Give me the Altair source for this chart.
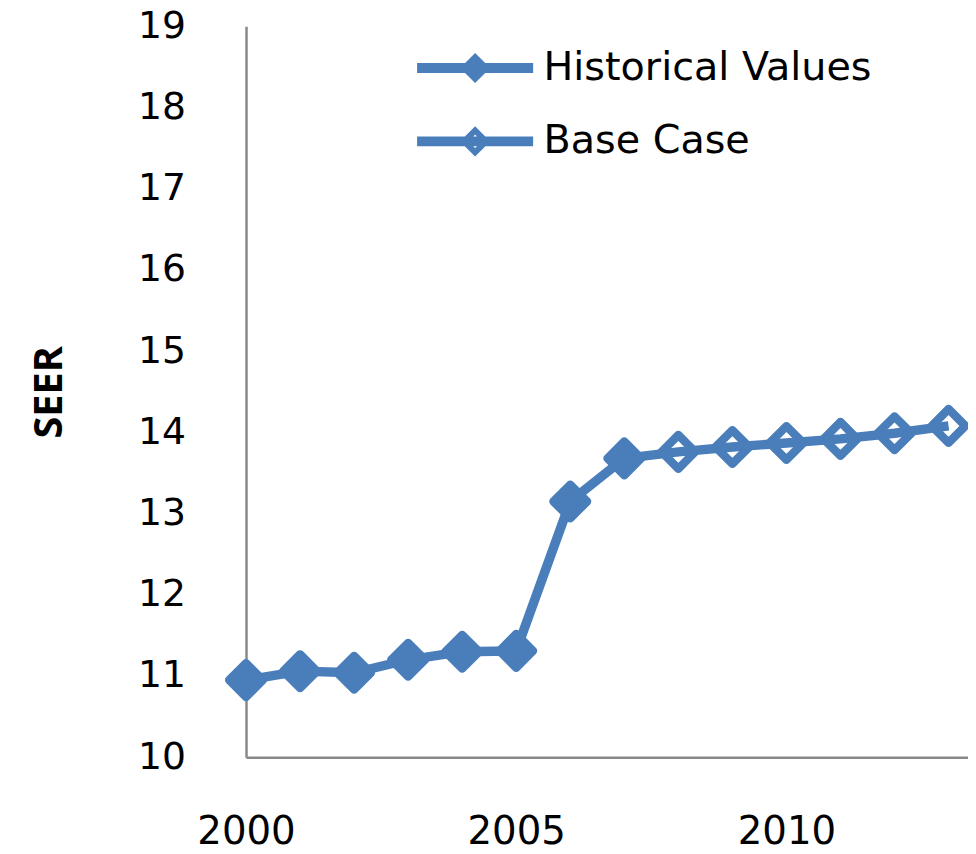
import altair as alt
import pandas as pd

# ---- data ----
hist_years = [2000, 2001, 2002, 2003, 2004, 2005, 2006, 2007]
hist_seer = [10.95, 11.06, 11.04, 11.20, 11.30, 11.31, 13.15, 13.68]
base_years = [2008, 2009, 2010, 2011, 2012, 2013]
base_seer = [13.76, 13.82, 13.87, 13.92, 13.99, 14.08]
series_names = ["Historical Values", "Base Case"]
x_tick_values = [2000, 2005, 2010]
y_tick_values = [10, 11, 12, 13, 14, 15, 16, 17, 18, 19]

BLUE = "#4a7ebb"
AXIS_GRAY = "#888888"

df = pd.DataFrame({
    "year": hist_years + base_years,
    "seer": hist_seer + base_seer,
    "series": [series_names[0]] * len(hist_years) + [series_names[1]] * len(base_years),
})

# legend symbol: a thick line (two offset strokes) through a diamond
# (unit = sqrt(size)/2 px)
legend_symbol = (
    "M-5.85,-0.2H5.85M-5.85,0.2H5.85"
    "M-1.1,0L0,-1.1L1.1,0L0,1.1Z"
)

x_enc = alt.X(
    "year:Q",
    scale=alt.Scale(domain=[2000, 2013.36], nice=False, zero=False),
    axis=alt.Axis(
        values=x_tick_values, format="d", ticks=False, tickSize=0, grid=False,
        domainColor=AXIS_GRAY, domainWidth=2.5, labelFont="DejaVu Sans",
        labelFontSize=39, labelColor="#000000", labelPadding=56,
        labelFlush=False, labelOverlap=False, title=None,
    ),
)
y_enc = alt.Y(
    "seer:Q",
    scale=alt.Scale(domain=[10, 19], nice=False, zero=False),
    axis=alt.Axis(
        values=y_tick_values, ticks=False, tickSize=0, grid=False,
        domainColor=AXIS_GRAY, domainWidth=2.5, labelFont="DejaVu Sans",
        labelFontSize=38, labelColor="#000000", labelPadding=61,
        title="SEER", titleFont="Open Sans", titleFontWeight="bold",
        titleFontSize=40, titleColor="#000000", titleX=-178,
    ),
)

points = alt.Chart(df).mark_point(
    shape="diamond", filled=True, size=1150, stroke=BLUE, strokeWidth=8.5,
    strokeJoin="round", opacity=1,
).encode(
    x=x_enc,
    y=y_enc,
    fill=alt.Fill(
        "series:N",
        scale=alt.Scale(domain=series_names, range=[BLUE, "#ffffff"]),
        legend=alt.Legend(
            title=None, orient="none", legendX=211, legendY=22, padding=0,
            symbolType=legend_symbol, symbolSize=400, symbolStrokeColor=BLUE,
            symbolStrokeWidth=6, symbolOpacity=1, rowPadding=28,
            labelFont="DejaVu Sans", labelFontSize=40, labelColor="#000000",
            labelOffset=49, labelLimit=600,
        ),
    ),
)

line = alt.Chart(df).mark_line(color=BLUE, strokeWidth=9.5, strokeJoin="round").encode(
    x=x_enc,
    y=y_enc,
    order="year:Q",
)

chart = alt.layer(points, line).properties(
    width=728,
    height=737,
    autosize=alt.AutoSizeParams(type="none"),
    padding={"left": 240, "top": 15, "right": 0, "bottom": 86},
).configure_view(strokeWidth=0)

chart.save("out.html", embed_options={"renderer": "svg", "actions": False})
